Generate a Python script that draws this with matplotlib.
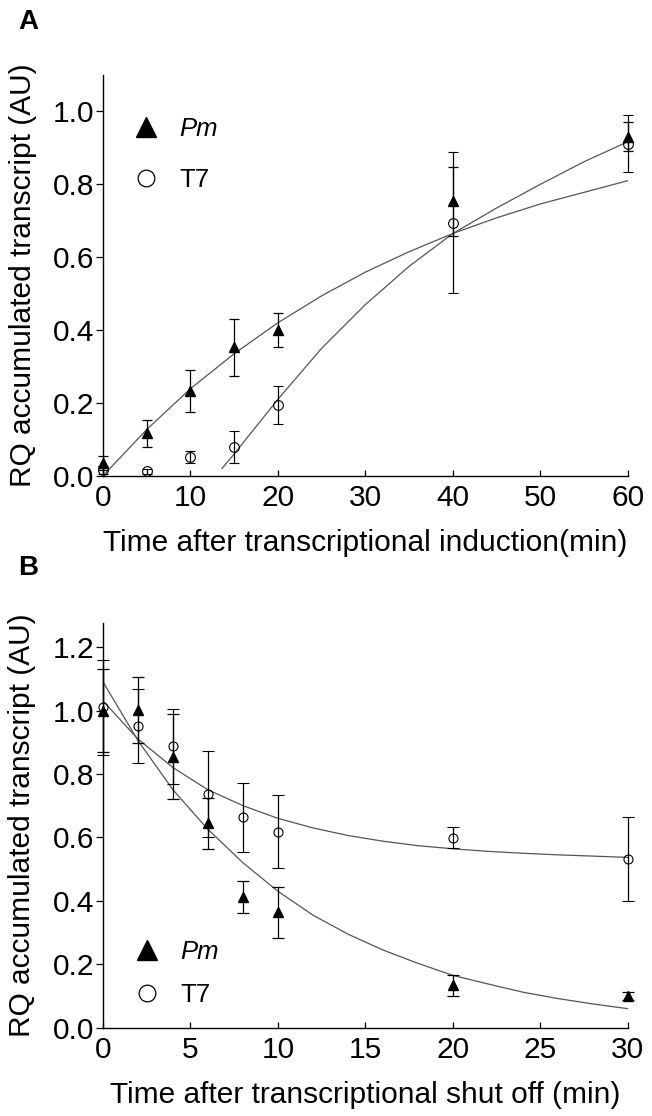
import matplotlib
matplotlib.use("Agg")
import matplotlib.pyplot as plt
from matplotlib.lines import Line2D

plt.rcParams['font.family'] = ['Liberation Sans', 'DejaVu Sans']

# panel A: accumulation after induction
a_time = [0, 5, 10, 15, 20, 40, 60]
a_pm = [0.035, 0.116, 0.232, 0.353, 0.400, 0.753, 0.931]
a_pm_err = [0.020, 0.036, 0.057, 0.078, 0.046, 0.094, 0.040]
a_t7 = [0.016, 0.012, 0.052, 0.079, 0.193, 0.695, 0.911]
a_t7_err = [0.010, 0.006, 0.016, 0.045, 0.052, 0.194, 0.078]

a_pm_fit_t = [0, 5, 10, 15, 20, 25, 30, 35, 40, 45, 50, 55, 60]
a_pm_fit = [0.0, 0.127, 0.239, 0.335, 0.420, 0.494, 0.559, 0.615, 0.665, 0.708, 0.746, 0.778, 0.810]
a_t7_fit_t = [13.6, 15, 20, 25, 30, 35, 40, 45, 50, 55, 60]
a_t7_fit = [0.02, 0.06, 0.21, 0.35, 0.47, 0.575, 0.665, 0.735, 0.80, 0.862, 0.917]

# panel B: decay after shut off
b_time = [0, 2, 4, 6, 8, 10, 20, 30]
b_pm = [1.0, 1.002, 0.855, 0.645, 0.412, 0.364, 0.134, 0.100]
b_pm_err = [0.13, 0.103, 0.135, 0.08, 0.049, 0.08, 0.033, 0.013]
b_t7 = [1.01, 0.95, 0.887, 0.736, 0.663, 0.618, 0.599, 0.532]
b_t7_err = [0.15, 0.117, 0.118, 0.135, 0.108, 0.115, 0.033, 0.133]

b_fit_t = [0, 2, 4, 6, 8, 10, 12, 14, 16, 18, 20, 22, 24, 26, 28, 30]
b_pm_fit = [1.09, 0.905, 0.75, 0.625, 0.52, 0.43, 0.355, 0.295, 0.245, 0.203,
            0.165, 0.138, 0.112, 0.092, 0.075, 0.06]
b_t7_fit = [1.03, 0.91, 0.82, 0.75, 0.70, 0.66, 0.63, 0.606, 0.588, 0.574,
            0.564, 0.556, 0.55, 0.545, 0.541, 0.537]

labels = ['Pm', 'T7']
FS = 21.5
FIT_COLOR = '#555555'


def draw_panel(ax, t, pm, pm_err, t7, t7_err, ms, cap):
    ax.errorbar(t, pm, yerr=pm_err, fmt='^', color='black', ms=ms,
                capsize=cap, elinewidth=0.9, capthick=0.9, clip_on=False, zorder=3)
    ax.errorbar(t, t7, yerr=t7_err, fmt='o', color='black', mfc='none', mew=0.8,
                ms=ms, capsize=cap, elinewidth=0.9, capthick=0.9, clip_on=False, zorder=3)
    for side in ['top', 'right']:
        ax.spines[side].set_visible(False)
    for side in ['left', 'bottom']:
        ax.spines[side].set_linewidth(1.0)
    ax.tick_params(axis='y', direction='out', length=5, width=0.9, pad=1, labelsize=FS)
    ax.tick_params(axis='x', direction='in', length=4.5, width=0.9, pad=6, labelsize=FS)


def add_legend(ax, anchor, spacing):
    handles = [Line2D([], [], marker='^', ls='none', color='black', ms=15),
               Line2D([], [], marker='o', ls='none', color='black', mfc='none', mew=0.9, ms=12)]
    leg = ax.legend(handles, labels, loc='upper left', bbox_to_anchor=anchor,
                    frameon=False, fontsize=18.5, handlelength=0.8, handletextpad=0.9,
                    borderpad=0, borderaxespad=0, labelspacing=spacing)
    leg.get_texts()[0].set_fontstyle('italic')


fig = plt.figure(figsize=(6.52, 11.16), dpi=100)

axA = fig.add_axes([0.158, 0.5737, 0.805, 0.3591])
axA.plot(a_pm_fit_t, a_pm_fit, color=FIT_COLOR, lw=0.9)
axA.plot(a_t7_fit_t, a_t7_fit, color=FIT_COLOR, lw=0.9)
draw_panel(axA, a_time, a_pm, a_pm_err, a_t7, a_t7_err, ms=7, cap=3.8)
axA.set_xlim(0, 60)
axA.set_ylim(0, 1.1)
axA.set_xticks(range(0, 61, 10))
axA.set_yticks([0.0, 0.2, 0.4, 0.6, 0.8, 1.0])
axA.set_yticklabels(['0.0', '0.2', '0.4', '0.6', '0.8', '1.0'])
axA.set_xlabel('Time after transcriptional induction(min)', fontsize=FS, labelpad=12)
axA.set_ylabel('RQ accumulated transcript (AU)', fontsize=FS, labelpad=12)
add_legend(axA, (0.0615, 0.8955), 1.07)

axB = fig.add_axes([0.158, 0.0791, 0.805, 0.3624])
axB.plot(b_fit_t, b_pm_fit, color=FIT_COLOR, lw=0.9)
axB.plot(b_fit_t, b_t7_fit, color=FIT_COLOR, lw=0.9)
draw_panel(axB, b_time, b_pm, b_pm_err, b_t7, b_t7_err, ms=6.5, cap=4.5)
axB.set_xlim(0, 30)
axB.set_ylim(0, 1.275)
axB.set_xticks(range(0, 31, 5))
axB.set_yticks([0.0, 0.2, 0.4, 0.6, 0.8, 1.0, 1.2])
axB.set_yticklabels(['0.0', '0.2', '0.4', '0.6', '0.8', '1.0', '1.2'])
axB.set_xlabel('Time after transcriptional shut off (min)', fontsize=FS, labelpad=12)
axB.set_ylabel('RQ accumulated transcript (AU)', fontsize=FS, labelpad=12)
add_legend(axB, (0.0644, 0.218), 0.76)

fig.text(0.028, 0.980, 'A', fontsize=20, fontweight='bold', va='center')
fig.text(0.028, 0.491, 'B', fontsize=20, fontweight='bold', va='center')

fig.savefig('out.png', dpi=100)
